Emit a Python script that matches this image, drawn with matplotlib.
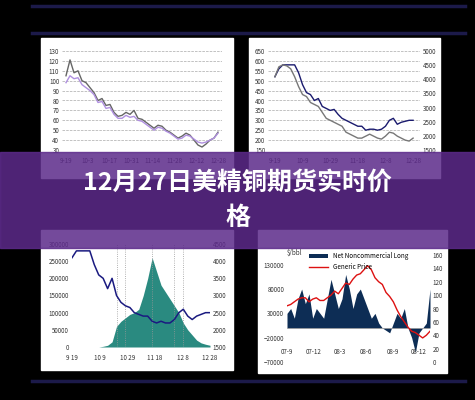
import numpy as np
import matplotlib.pyplot as plt
from matplotlib.patches import Rectangle

plt.rcParams['font.family'] = ['Noto Sans CJK SC', 'DejaVu Sans']

# panel 1: two price lines
p1_ticks = ["9-19", "10-3", "10-17", "10-31", "11-14", "11-28", "12-12", "12-28"]
p1_dark = [105, 121, 108, 110, 100, 98, 93, 88, 80, 82, 75, 76, 68, 64, 65, 68, 66, 70, 62, 61,
           58, 55, 52, 55, 54, 50, 48, 45, 42, 44, 47, 45, 40, 35, 33, 36, 40, 42, 48]
p1_light = [98, 105, 102, 103, 96, 93, 90, 86, 78, 79, 72, 73, 66, 62, 62, 65, 63, 64, 60, 59,
            56, 53, 50, 53, 52, 49, 47, 44, 41, 42, 45, 44, 41, 38, 37, 38, 40, 42, 47]

# panel 2
p2_ticks = ["9-19", "10-9", "10-29", "11-18", "12-8", "12-28"]
p2_navy = [520, 560, 580, 580, 580, 580, 540, 480, 440, 430, 400, 410, 370, 360, 350, 355, 330, 310,
           300, 290, 280, 270, 270, 250, 255, 255, 250, 255, 270, 300, 310, 280, 290, 295, 300, 300]
p2_gray = [520, 570, 580, 575, 560, 520, 470, 430, 420, 390, 380, 370, 340, 310, 300, 290, 280, 270,
           240, 230, 220, 210, 210, 220, 230, 220, 210, 205, 220, 240, 235, 220, 210, 200, 195, 210]

# panel 3
p3_ticks = ["9 19", "10 9", "10 29", "11 18", "12 8", "12 28"]
p3_area = [0, 0, 0, 0, 0, 0, 0, 2000, 5000, 15000, 60000, 75000, 85000, 95000, 100000, 110000,
           150000, 200000, 260000, 220000, 180000, 160000, 140000, 120000, 100000, 70000, 50000,
           35000, 20000, 12000, 8000, 5000]
p3_line = [4100, 4300, 4300, 4300, 4300, 3900, 3600, 3500, 3200, 3500, 3000, 2800, 2700, 2650,
           2500, 2450, 2400, 2400, 2250, 2200, 2250, 2200, 2200, 2300, 2500, 2600, 2400, 2300,
           2400, 2450, 2500, 2500]

# panel 4
p4_ticks = ["07-9", "07-12", "08-3", "08-6", "08-9", "08-12"]
p4_area = [30000, 40000, 20000, 60000, 80000, 50000, 70000, 20000, 40000, 30000, 20000, 60000,
           100000, 70000, 40000, 60000, 110000, 80000, 40000, 70000, 80000, 60000, 40000, 20000,
           30000, 10000, 0, -5000, -10000, 10000, 30000, 20000, 40000, 0, -20000, -50000, -10000,
           0, 10000, 80000]
p4_price = [84, 86, 90, 94, 96, 96, 90, 94, 96, 92, 92, 96, 100, 106, 102, 110, 118, 116, 124,
            130, 132, 138, 144, 138, 126, 120, 116, 104, 98, 90, 78, 68, 60, 52, 46, 44, 40, 36,
            40, 46]

fig = plt.figure(figsize=(4.75, 4.0), dpi=100, facecolor='black')
W, H = 475, 400

def box(x0, y0, x1, y1):
    return [x0 / W, 1 - y1 / H, (x1 - x0) / W, (y1 - y0) / H]

for y in [6, 33, 381]:
    fig.add_artist(plt.Line2D([32 / W, 465 / W], [1 - y / H] * 2, color='#1c1a4a', lw=2.5))

for b in [(41, 38, 233, 178), (249, 38, 440, 178), (41, 230, 233, 370), (258, 230, 447, 373)]:
    fig.add_artist(Rectangle((b[0] / W, 1 - b[3] / H), (b[2] - b[0]) / W, (b[3] - b[1]) / H,
                             transform=fig.transFigure, color='white', zorder=0))

def style(ax, fs=4.5):
    ax.set_facecolor('white')
    for s in ax.spines.values():
        s.set_visible(False)
    ax.tick_params(labelsize=fs, length=0, colors='#333333', pad=2)

# panel 1
ax1 = fig.add_axes(box(62, 51, 222, 150))
style(ax1)
x1 = np.arange(len(p1_dark))
ax1.plot(x1, p1_dark, color='#666666', lw=1)
ax1.plot(x1, p1_light, color='#b090e0', lw=1)
ax1.set_ylim(30, 130)
ax1.set_yticks(range(30, 131, 10))
ax1.grid(axis='y', ls='--', color='#aaaaaa', lw=0.5)
ax1.set_xticks(np.linspace(0, len(p1_dark) - 1, len(p1_ticks)))
ax1.set_xticklabels(p1_ticks)
ax1.tick_params(axis='x', pad=5)
ax1.set_xlim(-1, len(p1_dark))

# panel 2
ax2 = fig.add_axes(box(268, 51, 420, 150))
style(ax2)
x2 = np.arange(len(p2_navy))
ax2.plot(x2, p2_navy, color='#1a1a6e', lw=1)
ax2.plot(x2, p2_gray, color='#777777', lw=1)
ax2.set_ylim(150, 650)
ax2.set_yticks(range(150, 651, 50))
ax2.grid(axis='y', ls='--', color='#aaaaaa', lw=0.5)
ax2.set_xticks(np.linspace(0, len(p2_navy) - 1, len(p2_ticks)))
ax2.set_xticklabels(p2_ticks)
ax2.tick_params(axis='x', pad=5)
ax2r = ax2.twinx()
style(ax2r)
ax2r.set_ylim(1500, 5000)
ax2r.set_yticks(range(1500, 5001, 500))

# panel 3
ax3 = fig.add_axes(box(72, 244, 210, 347))
style(ax3)
x3 = np.arange(len(p3_area))
ax3.fill_between(x3, 0, p3_area, color='#2a8a80', lw=0)
for xv in [10, 12, 18, 23, 25]:
    ax3.axvline(xv, color='#999999', ls=':', lw=0.6)
ax3.set_ylim(0, 300000)
ax3.set_yticks(range(0, 300001, 50000))
ax3.set_xticks(np.linspace(0, len(p3_area) - 1, len(p3_ticks)))
ax3.set_xticklabels(p3_ticks)
ax3.tick_params(axis='x', pad=5)
ax3.set_xlim(0, len(p3_area) - 1)
ax3r = ax3.twinx()
style(ax3r)
ax3r.plot(x3, p3_line, color='#1a1a80', lw=1.1)
ax3r.set_ylim(1500, 4500)
ax3r.set_yticks(range(1500, 4501, 500))

# panel 4
ax4 = fig.add_axes(box(287, 255, 430, 362))
style(ax4)
x4 = np.arange(len(p4_area))
ax4.fill_between(x4, 0, p4_area, color='#0d2d55', lw=0, label='Net Noncommercial Long')
ax4.set_ylim(-70000, 150000)
ax4.set_yticks([-70000, -20000, 30000, 80000, 130000])
ax4.set_xlim(0, len(p4_area) - 1)
ax4.set_xticks(np.linspace(0, len(p4_area) - 4, len(p4_ticks)))
ax4.set_xticklabels(p4_ticks)
ax4.tick_params(axis='x', pad=-10)
ax4.axhline(0, color='#999999', lw=0.5)
ax4.text(0.0, 1.0, '$/bbl', transform=ax4.transAxes, fontsize=4.5, color='#333333')
ax4r = ax4.twinx()
style(ax4r)
ax4r.plot(x4, p4_price, color='#dd1111', lw=1, label='Generic Price')
ax4r.set_ylim(0, 160)
ax4r.set_yticks(range(0, 161, 20))
h1, l1 = ax4.get_legend_handles_labels()
h2, l2 = ax4r.get_legend_handles_labels()
ax4r.legend(h1 + h2, l1 + l2, loc='upper center', fontsize=4.5, frameon=False,
            bbox_to_anchor=(0.5, 1.08), handlelength=3)

# banner
fig.add_artist(Rectangle((0, 1 - 248 / H), 1, 96 / H, transform=fig.transFigure,
                         color='#5c2a8a', alpha=0.85, zorder=10))
fig.text(0.5, 1 - 183 / H, '12月27日美精铜期货实时价', color='white', fontsize=18,
         fontweight='bold', ha='center', va='center', zorder=11)
fig.text(0.5, 1 - 218 / H, '格', color='white', fontsize=18,
         fontweight='bold', ha='center', va='center', zorder=11)

fig.savefig('out.png', dpi=100, facecolor='black')
